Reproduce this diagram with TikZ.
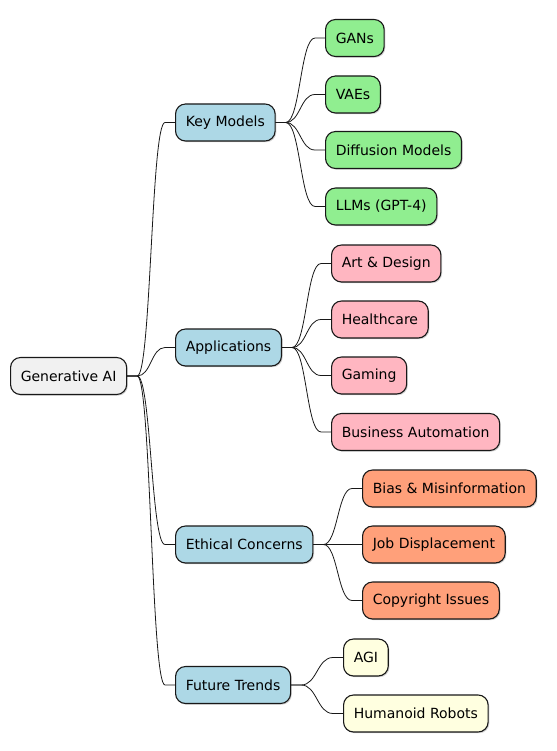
\documentclass[tikz,border=0pt]{standalone}
\usepackage{fontspec}
\setmainfont{DejaVu Sans}
\usetikzlibrary{calc,shadows}
\definecolor{rootc}{HTML}{F1F1F1}
\definecolor{bluec}{HTML}{ADD8E6}
\definecolor{greenc}{HTML}{90EE90}
\definecolor{pinkc}{HTML}{FFB6C1}
\definecolor{salmonc}{HTML}{FFA07A}
\definecolor{yellowc}{HTML}{FFFFE0}
\definecolor{linec}{HTML}{181818}
\newcommand\mmconn[2]{%
  \draw[conn] let \p1=(#1.east), \p2=(#2.west) in
    (\p1) -- (\x1+10pt,\y1)
    .. controls ({0.5*\x1+0.5*\x2},\y1) and ({0.5*\x1+0.5*\x2},\y2) ..
    (\x2-10pt,\y2) -- (\p2);}
\tikzset{
  mm/.style={draw=linec, line width=1.1pt, rounded corners=10pt, anchor=west,
    minimum height=37pt, inner xsep=10.2pt, inner ysep=0pt,
    font=\fontsize{14pt}{16pt}\selectfont, text=black,
    drop shadow={shadow xshift=1.2pt, shadow yshift=-1.2pt, opacity=0.18, fill=black}},
  rootn/.style={mm, fill=rootc},
  l1/.style={mm, fill=bluec},
  gn/.style={mm, fill=greenc},
  pn/.style={mm, fill=pinkc},
  sn/.style={mm, fill=salmonc},
  yn/.style={mm, fill=yellowc},
  conn/.style={draw=linec, line width=0.8pt}
}
\begin{document}
\begin{tikzpicture}[x=1pt,y=-1pt]
\useasboundingbox (0,0) rectangle (556,751);
\node[rootn] (root) at (10,376) {Generative AI};
\node[l1] (km) at (175,122.5) {Key Models};
\node[l1] (ap) at (175,347.5) {Applications};
\node[l1] (ec) at (175,544.5) {Ethical Concerns};
\node[l1] (ft) at (175,685) {Future Trends};
\node[gn] (gans) at (325,38) {GANs};
\node[gn] (vaes) at (325,94.5) {VAEs};
\node[gn] (diff) at (325,150) {Diffusion Models};
\node[gn] (llm) at (325,206.5) {LLMs (GPT-4)};
\node[pn] (art) at (331,263.5) {Art \& Design};
\node[pn] (hc) at (331,319.5) {Healthcare};
\node[pn] (gm) at (331,375.5) {Gaming};
\node[pn] (ba) at (331,432) {Business Automation};
\node[sn] (bias) at (362,488.5) {Bias \& Misinformation};
\node[sn] (job) at (362,544.5) {Job Displacement};
\node[sn] (copy) at (362,600.5) {Copyright Issues};
\node[yn] (agi) at (343,657.5) {AGI};
\node[yn] (hr) at (343,713.5) {Humanoid Robots};
\mmconn{root}{km}
\mmconn{root}{ap}
\mmconn{root}{ec}
\mmconn{root}{ft}
\mmconn{km}{gans}
\mmconn{km}{vaes}
\mmconn{km}{diff}
\mmconn{km}{llm}
\mmconn{ap}{art}
\mmconn{ap}{hc}
\mmconn{ap}{gm}
\mmconn{ap}{ba}
\mmconn{ec}{bias}
\mmconn{ec}{job}
\mmconn{ec}{copy}
\mmconn{ft}{agi}
\mmconn{ft}{hr}
\end{tikzpicture}
\end{document}
